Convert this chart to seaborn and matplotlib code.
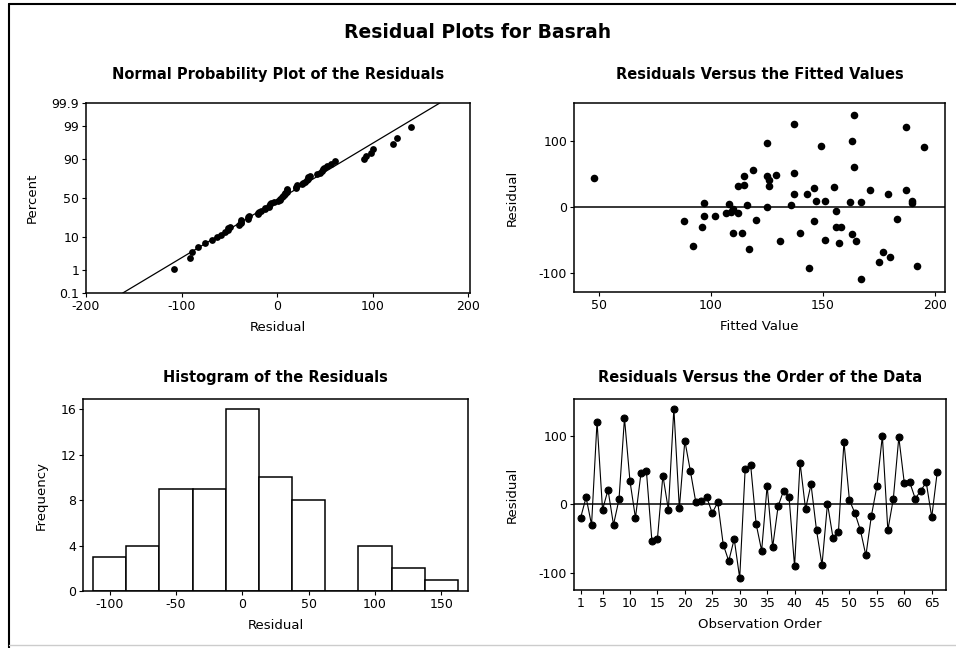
import numpy as np
import pandas as pd
import matplotlib
matplotlib.use('Agg')
import matplotlib.pyplot as plt
import seaborn as sns
from matplotlib.lines import Line2D
from statistics import NormalDist

# Residuals in observation order
residuals = [-20, 10, -30, 121, -8, 21, -30, 7, 126, 34,
             -20, 45, 48, -54, -51, 42, -8, 140, -6, 93,
             49, 3, 5, 10, -13, 3, -59, -83, -51, -108,
             52, 57, -29, -68, 27, -63, -3, 20, 10, -91,
             61, -7, 29, -38, -89, 1, -49, -40, 91, 6,
             -13, -38, -75, -17, 26, 100, -38, 8, 98, 31,
             32, 8, 20, 32, -19, 47]

# Fitted values for the same observations
fitted = [146, 147, 96, 187, 107, 179, 158, 190, 137, 115,
          88, 48, 125, 157, 131, 126, 112, 164, 156, 149,
          129, 136, 108, 190, 97, 116, 92, 175, 165, 167,
          137, 119, 156, 177, 171, 117, 110, 143, 151, 144,
          164, 109, 146, 110, 192, 125, 151, 163, 195, 97,
          102, 114, 180, 183, 187, 163, 140, 162, 125, 155,
          126, 167, 137, 112, 120, 115]

pct_ticks = [0.1, 1, 10, 50, 90, 99, 99.9]
pct_labels = ['0.1', '1', '10', '50', '90', '99', '99.9']
hist_edges = [-112.5, -87.5, -62.5, -37.5, -12.5, 12.5, 37.5, 62.5, 87.5, 112.5, 137.5, 162.5]
hist_ticks = [-100, -50, 0, 50, 100, 150]
order_ticks = [1, 5, 10, 15, 20, 25, 30, 35, 40, 45, 50, 55, 60, 65]

df = pd.DataFrame({'obs': np.arange(1, len(residuals) + 1),
                   'fitted': fitted, 'resid': residuals})

# normal probability plot values
nd = NormalDist()
n = len(residuals)
npp = pd.DataFrame({'resid': np.sort(residuals)})
npp['z'] = [nd.inv_cdf((i - 0.3) / (n + 0.4)) for i in range(1, n + 1)]
mu = np.mean(residuals)
sd = np.std(residuals, ddof=1)
zlo, zhi = nd.inv_cdf(0.001), nd.inv_cdf(0.999)

sns.set_style('white')
plt.rcParams['font.family'] = ['DejaVu Sans']
plt.rcParams['axes.edgecolor'] = 'black'
plt.rcParams['axes.linewidth'] = 1.1
plt.rcParams['axes.unicode_minus'] = False
for k in ('text.color', 'axes.labelcolor', 'xtick.color', 'ytick.color'):
    plt.rcParams[k] = 'black'

fig = plt.figure(figsize=(9.56, 6.48), dpi=100)
W, H = 956, 648


def box(x0, y0, x1, y1):
    return [x0 / W, 1 - y1 / H, (x1 - x0) / W, (y1 - y0) / H]


ax1 = fig.add_axes(box(86, 103, 470, 293))
ax2 = fig.add_axes(box(574, 103, 945, 292))
ax3 = fig.add_axes(box(83, 399, 468, 591))
ax4 = fig.add_axes(box(574, 399, 946, 590))

lab_kw = dict(fontsize=9.5)

# Normal probability plot
ax1.plot([mu + sd * zlo, mu + sd * zhi], [zlo, zhi], color='black', lw=0.9)
sns.scatterplot(data=npp, x='resid', y='z', ax=ax1, color='black', s=24,
                edgecolor='black', linewidth=0)
ax1.set_xlim(-200, 202)
ax1.set_ylim(zlo, zhi)
ax1.set_xticks([-200, -100, 0, 100, 200])
ax1.set_yticks([nd.inv_cdf(p / 100) for p in pct_ticks])
ax1.set_yticklabels(pct_labels)
ax1.set_title('Normal Probability Plot of the Residuals', fontsize=10.5,
              fontweight='bold', pad=17)
ax1.set_xlabel('Residual', labelpad=6, **lab_kw)
ax1.set_ylabel('Percent', labelpad=9, **lab_kw)

# Residuals vs fitted
sns.scatterplot(data=df, x='fitted', y='resid', ax=ax2, color='black', s=30,
                edgecolor='black', linewidth=0)
ax2.axhline(0, color='black', lw=1.1)
ax2.set_xlim(39, 204.5)
ax2.set_ylim(-128, 158)
ax2.set_xticks([50, 100, 150, 200])
ax2.set_yticks([-100, 0, 100])
ax2.set_title('Residuals Versus the Fitted Values', fontsize=10.5,
              fontweight='bold', pad=17)
ax2.set_xlabel('Fitted Value', labelpad=6, **lab_kw)
ax2.set_ylabel('Residual', labelpad=14, **lab_kw)

# Histogram
sns.histplot(data=df, x='resid', bins=hist_edges, ax=ax3, color='white',
             edgecolor='black', linewidth=1.1, alpha=1)
ax3.set_xlim(-120, 170)
ax3.set_ylim(0, 16.9)
ax3.set_xticks(hist_ticks)
ax3.set_yticks([0, 4, 8, 12, 16])
ax3.set_title('Histogram of the Residuals', fontsize=10.5,
              fontweight='bold', pad=12)
ax3.set_xlabel('Residual', labelpad=6, **lab_kw)
ax3.set_ylabel('Frequency', labelpad=9, **lab_kw)

# Residuals vs order
sns.lineplot(data=df, x='obs', y='resid', ax=ax4, color='black', lw=0.8,
             marker='o', markersize=5, markeredgecolor='black')
ax4.axhline(0, color='black', lw=1.1)
ax4.set_xlim(-0.2, 67.6)
ax4.set_ylim(-125.5, 154)
ax4.set_xticks(order_ticks)
ax4.set_yticks([-100, 0, 100])
ax4.set_title('Residuals Versus the Order of the Data', fontsize=10.5,
              fontweight='bold', pad=12)
ax4.set_xlabel('Observation Order', labelpad=6, **lab_kw)
ax4.set_ylabel('Residual', labelpad=14, **lab_kw)

for ax in (ax1, ax2, ax3, ax4):
    ax.tick_params(direction='out', length=3, width=0.8, labelsize=9, pad=2,
                   bottom=True, left=True)
    for sp in ax.spines.values():
        sp.set_visible(True)

fig.text(0.5, 1 - 33 / H, 'Residual Plots for Basrah', ha='center', va='center',
         fontsize=13.5, fontweight='bold')

# outer frame
fig.add_artist(Line2D([9 / W, 1], [1 - 4 / H, 1 - 4 / H], color='black', lw=1.5))
fig.add_artist(Line2D([9 / W, 9 / W], [1 - 4 / H, 0], color='black', lw=1.5))
fig.add_artist(Line2D([9 / W, 1], [1 - 645 / H, 1 - 645 / H], color='#cccccc', lw=1))

fig.savefig('out.png', dpi=100)
